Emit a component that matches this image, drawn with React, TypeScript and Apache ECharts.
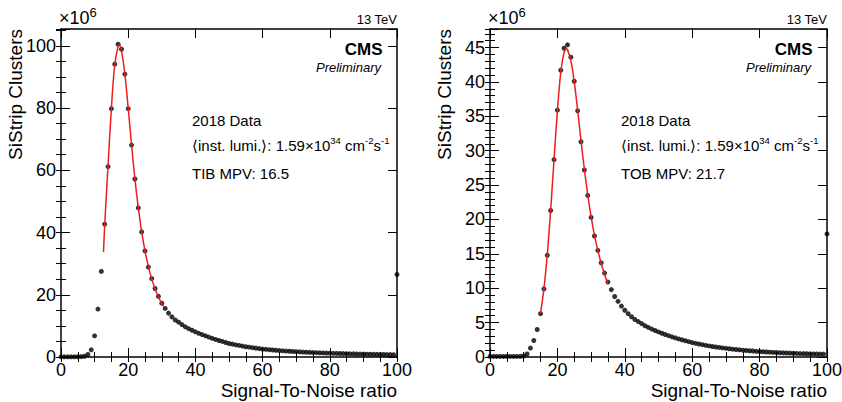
import React, { useEffect, useRef } from "react";
import * as echarts from "echarts";

// Signal-to-noise bins (integer S/N values 0..100), cluster counts in units of 10^6
const tibClusters = [
  0.05, 0.05, 0.05, 0.05, 0.05, 0.08, 0.12, 0.25, 0.8, 2.3,
  6.8, 15.4, 27.5, 42.7, 61.2, 79.8, 94.1, 100.5, 98.9, 90.9,
  79.8, 68.1, 57.2, 47.9, 40.2, 34.1, 28.9, 25.2, 22.0, 19.5,
  17.3, 15.6, 14.1, 12.9, 11.9, 11.2, 10.4, 9.7, 9.1, 8.6,
  8.1, 7.6, 7.2, 6.8, 6.4, 6.0, 5.65, 5.3, 5.0, 4.65,
  4.35, 4.13, 3.92, 3.72, 3.5, 3.3, 3.15, 3.0, 2.85, 2.7,
  2.55, 2.45, 2.35, 2.25, 2.16, 2.07, 1.99, 1.91, 1.84, 1.77,
  1.7, 1.64, 1.58, 1.53, 1.48, 1.43, 1.38, 1.34, 1.3, 1.26,
  1.22, 1.18, 1.15, 1.12, 1.09, 1.06, 1.03, 1.0, 0.97, 0.95,
  0.92, 0.9, 0.88, 0.86, 0.84, 0.82, 0.8, 0.78, 0.76, 0.74,
  26.5,
];

const tobClusters = [
  0.08, 0.08, 0.08, 0.08, 0.08, 0.08, 0.08, 0.08, 0.08, 0.1,
  0.15, 0.45, 1.3, 2.4, 4.0, 6.3, 9.9, 14.8, 21.3, 28.7,
  35.9, 41.7, 44.9, 45.4, 43.6, 40.1, 35.8, 31.3, 27.2, 23.5,
  20.3, 17.6, 15.5, 13.7, 12.2, 10.9, 9.8, 8.8, 8.1, 7.4,
  6.8, 6.3, 5.85, 5.45, 5.15, 4.85, 4.55, 4.3, 4.05, 3.85,
  3.65, 3.45, 3.27, 3.1, 2.93, 2.78, 2.63, 2.49, 2.36, 2.23,
  2.1, 1.99, 1.89, 1.79, 1.7, 1.61, 1.53, 1.46, 1.39, 1.32,
  1.26, 1.2, 1.14, 1.09, 1.04, 0.99, 0.95, 0.91, 0.87, 0.83,
  0.79, 0.76, 0.73, 0.7, 0.67, 0.65, 0.62, 0.6, 0.58, 0.56,
  0.54, 0.52, 0.5, 0.49, 0.47, 0.46, 0.45, 0.44, 0.43, 0.42,
  17.9,
];

// Landau-like fit curves
const tibFitX = [12.65, 13, 14, 15, 16, 17, 17.4, 18, 19, 20, 21, 22, 23, 24, 25, 26, 27, 28, 29, 30, 30.5];
const tibFitY = [33.7, 42.3, 61.5, 80.0, 94.0, 99.8, 100.2, 98.4, 91.0, 80.0, 68.2, 57.2, 48.0, 40.3, 34.1, 29.1, 25.1, 21.9, 19.3, 17.2, 16.3];

const tobFitX = [15, 16, 17, 18, 19, 20, 21, 22, 22.7, 23, 24, 25, 26, 27, 28, 29, 30, 31, 32, 33, 34, 35];
const tobFitY = [6.4, 9.9, 14.9, 21.4, 28.7, 35.8, 41.4, 44.3, 44.8, 44.7, 43.1, 40.0, 35.9, 31.5, 27.3, 23.6, 20.4, 17.7, 15.5, 13.6, 12.0, 10.6];

const xTickMajor = 20;
const xTickMinor = 5;
const panels = [
  { name: "TIB", mpv: "16.5", data: tibClusters, fitX: tibFitX, fitY: tibFitY, yMax: 105.4, yMajor: 20, yMinor: 5, left: 61, width: 336 },
  { name: "TOB", mpv: "21.7", data: tobClusters, fitX: tobFitX, fitY: tobFitY, yMax: 47.7, yMajor: 5, yMinor: 1, left: 490, width: 337 },
];

const FONT = "'Liberation Sans', Arial, Helvetica, sans-serif";
const TOP = 29;
const HEIGHT = 328;

function isMultiple(v: number, step: number) {
  return Math.abs(v / step - Math.round(v / step)) < 1e-6;
}

export default function App() {
  const ref = useRef<HTMLDivElement>(null);

  useEffect(() => {
    if (!ref.current) return;
    const chart = echarts.init(ref.current, null, { renderer: "svg" });

    const grids: any[] = [];
    const xAxes: any[] = [];
    const yAxes: any[] = [];
    const series: any[] = [];
    const graphics: any[] = [];

    panels.forEach((p, gi) => {
      grids.push({ left: p.left, top: TOP, width: p.width, height: HEIGHT, containLabel: false, outerBoundsMode: "none" });
      const line = { show: true, onZero: false, lineStyle: { color: "#000", width: 1.5 } };
      const noLine = { show: false };
      const tick = (len: number) => ({ show: true, inside: true, length: len, lineStyle: { color: "#000", width: 1 } });
      const baseX = { type: "value", gridIndex: gi, min: 0, max: 100, splitLine: { show: false }, axisPointer: { show: false } };
      const xIdx = xAxes.length;
      xAxes.push(
        {
          ...baseX, position: "bottom", interval: xTickMajor, axisLine: line, axisTick: tick(9),
          axisLabel: { show: true, fontSize: 18, color: "#000", fontFamily: FONT, margin: 4 },
        },
        { ...baseX, position: "bottom", interval: xTickMinor, axisLine: noLine, axisTick: tick(5), axisLabel: { show: false } },
        { ...baseX, position: "top", interval: xTickMajor, axisLine: line, axisTick: tick(9), axisLabel: { show: false } },
        { ...baseX, position: "top", interval: xTickMinor, axisLine: noLine, axisTick: tick(5), axisLabel: { show: false } },
      );
      const baseY = { type: "value", gridIndex: gi, min: 0, max: p.yMax, splitLine: { show: false }, axisPointer: { show: false } };
      const yIdx = yAxes.length;
      yAxes.push(
        {
          ...baseY, position: "left", interval: p.yMajor, axisLine: line, axisTick: tick(9),
          axisLabel: {
            show: true, fontSize: 18, color: "#000", fontFamily: FONT, margin: 5,
            formatter: (v: number) => (isMultiple(v, p.yMajor) ? String(Math.round(v)) : ""),
          },
        },
        { ...baseY, position: "left", interval: p.yMinor, axisLine: noLine, axisTick: tick(5), axisLabel: { show: false } },
        { ...baseY, position: "right", interval: p.yMajor, axisLine: line, axisTick: tick(9), axisLabel: { show: false } },
        { ...baseY, position: "right", interval: p.yMinor, axisLine: noLine, axisTick: tick(5), axisLabel: { show: false } },
      );

      series.push({
        type: "scatter",
        xAxisIndex: xIdx,
        yAxisIndex: yIdx,
        data: p.data.map((v, i) => [i, v]),
        symbol: "circle",
        symbolSize: 5,
        itemStyle: { color: "#000" },
        clip: true,
        silent: true,
        z: 2,
      });
      series.push({
        type: "line",
        xAxisIndex: xIdx,
        yAxisIndex: yIdx,
        data: p.fitX.map((x, i) => [x, p.fitY[i]]),
        smooth: 0.35,
        showSymbol: false,
        symbol: "none",
        lineStyle: { color: "#ee1c1c", width: 1.5 },
        silent: true,
        z: 3,
      });

      const L = p.left;
      const R = p.left + p.width;
      graphics.push(
        {
          type: "text", x: L - 2, y: 18,
          style: {
            text: "{a|×10}{s|6}", fill: "#000", align: "left", verticalAlign: "middle", textAlign: "left", textVerticalAlign: "middle",
            rich: {
              a: { fontSize: 18, fontFamily: FONT, fill: "#000", color: "#000" },
              s: { fontSize: 13, fontFamily: FONT, fill: "#000", color: "#000", padding: [0, 0, 12, 0] },
            },
          },
        },
        {
          type: "text", x: R, y: 19.5,
          style: { text: "13 TeV", fontSize: 13, fontFamily: FONT, fill: "#000", align: "right", verticalAlign: "middle", textAlign: "right", textVerticalAlign: "middle" },
        },
        {
          type: "text", x: R - 14.5, y: 49,
          style: { text: "CMS", fontSize: 17, fontWeight: "bold", fontFamily: FONT, fill: "#000", align: "right", verticalAlign: "middle", textAlign: "right", textVerticalAlign: "middle" },
        },
        {
          type: "text", x: R - 16, y: 67,
          style: { text: "Preliminary", fontSize: 13, fontStyle: "italic", fontFamily: FONT, fill: "#000", align: "right", verticalAlign: "middle", textAlign: "right", textVerticalAlign: "middle" },
        },
        {
          type: "text", x: L + 131, y: 120,
          style: { text: "2018 Data", fontSize: 15, fontFamily: FONT, fill: "#000", align: "left", verticalAlign: "middle", textAlign: "left", textVerticalAlign: "middle" },
        },
        {
          type: "text", x: L + 131, y: 145,
          style: {
            text: "{a|⟨inst. lumi.⟩: 1.59×10}{s|34}{a| cm}{s|-2}{a|s}{s|-1}",
            fill: "#000", align: "left", verticalAlign: "middle", textAlign: "left", textVerticalAlign: "middle",
            rich: {
              a: { fontSize: 15, fontFamily: FONT, fill: "#000", color: "#000" },
              s: { fontSize: 9.5, fontFamily: FONT, fill: "#000", color: "#000", padding: [0, 0, 10, 0] },
            },
          },
        },
        {
          type: "text", x: L + 131, y: 173.5,
          style: { text: `${p.name} MPV: ${p.mpv}`, fontSize: 15, fontFamily: FONT, fill: "#000", align: "left", verticalAlign: "middle", textAlign: "left", textVerticalAlign: "middle" },
        },
        {
          type: "text", x: L - 45.7, y: TOP, rotation: Math.PI / 2,
          style: { text: "SiStrip Clusters", fontSize: 19, fontFamily: FONT, fill: "#000", align: "right", verticalAlign: "middle", textAlign: "right", textVerticalAlign: "middle" },
        },
        {
          type: "text", x: R, y: 390,
          style: { text: "Signal-To-Noise ratio", fontSize: 19, fontFamily: FONT, fill: "#000", align: "right", verticalAlign: "middle", textAlign: "right", textVerticalAlign: "middle" },
        },
      );
    });

    chart.setOption({
      animation: false,
      backgroundColor: "#fff",
      textStyle: { fontFamily: FONT },
      grid: grids,
      xAxis: xAxes,
      yAxis: yAxes,
      series,
      graphic: { elements: graphics },
    });

    return () => chart.dispose();
  }, []);

  return (
    <div
      ref={ref}
      style={{ position: "absolute", left: 0, top: 0, width: 842, height: 402, background: "#fff" }}
    />
  );
}
